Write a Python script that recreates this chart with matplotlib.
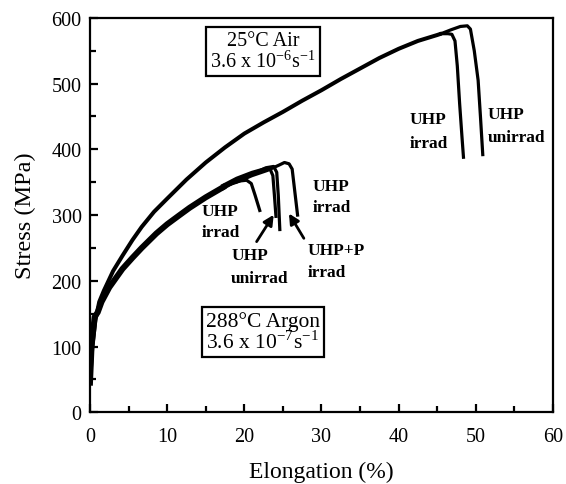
import matplotlib.pyplot as plt
from matplotlib.ticker import MultipleLocator

plt.rcParams['font.family'] = ['Liberation Serif', 'DejaVu Serif']
plt.rcParams['mathtext.fontset'] = 'stix'

# 25 C air, common rising part
air_x = [0, 0.3, 0.7, 1.2, 1.8, 3.0, 4.2, 5.5, 6.7, 8.3, 10, 12.5, 15, 17.5, 20,
         22.5, 25, 27.5, 30, 32.5, 35, 37.5, 40, 42.5, 45, 45.5]
air_y = [45, 100, 140, 168, 185, 215, 238, 262, 282, 305, 325, 354, 380, 403, 424,
         441, 457, 474, 490, 507, 523, 539, 553, 565, 574, 576]
air_unirr_x = [45.5, 46.8, 48.0, 48.9, 49.3, 49.8, 50.3, 50.6, 50.9]
air_unirr_y = [576, 582, 587, 588, 583, 550, 505, 450, 392]
air_irr_x = [45.5, 46.4, 46.9, 47.3, 47.6, 47.9, 48.2, 48.4]
air_irr_y = [576, 576, 575, 565, 527, 470, 420, 388]

# 288 C argon
arg_x = [0, 0.2, 0.6, 1.0, 1.5, 2.5, 4.2, 5.5, 6.7, 8.6, 10, 11.5, 12.9, 15, 17.2]
arg_y = [45, 100, 145, 152, 168, 190, 218, 235, 250, 272, 286, 299, 311, 327, 342]
arg_irr1_x = [17.2, 18.5, 19.5, 20.3, 20.9, 21.4, 22.0]
arg_irr1_y = [342, 349, 352, 353, 348, 330, 307]
arg_unirr_x = [17.2, 19, 21, 22.5, 23.3, 23.7, 23.9, 24.1]
arg_unirr_y = [345, 356, 365, 370, 371, 360, 330, 298]
arg_p_x = [17.2, 19, 21, 22.8, 23.8, 24.2, 24.4, 24.6]
arg_p_y = [340, 352, 362, 372, 374, 365, 330, 278]
arg_irr2_x = [17.2, 19, 21, 23, 24.5, 25.2, 25.8, 26.2, 26.6, 26.9]
arg_irr2_y = [343, 350, 360, 368, 376, 380, 378, 370, 330, 300]

fig = plt.figure(figsize=(5.66, 4.85), dpi=100)
ax = fig.add_axes([0.159, 0.148, 0.818, 0.813])

lw = 2.3
ax.plot(air_x, air_y, color='black', lw=lw + 0.6, solid_capstyle='round')
ax.plot(air_unirr_x, air_unirr_y, color='black', lw=lw)
ax.plot(air_irr_x, air_irr_y, color='black', lw=lw)
ax.plot(arg_x, arg_y, color='black', lw=lw + 2.0)
ax.plot(arg_irr1_x, arg_irr1_y, color='black', lw=lw)
ax.plot(arg_unirr_x, arg_unirr_y, color='black', lw=lw)
ax.plot(arg_p_x, arg_p_y, color='black', lw=lw)
ax.plot(arg_irr2_x, arg_irr2_y, color='black', lw=lw)

ax.set_xlim(0, 60)
ax.set_ylim(0, 600)
ax.xaxis.set_major_locator(MultipleLocator(10))
ax.xaxis.set_minor_locator(MultipleLocator(5))
ax.yaxis.set_major_locator(MultipleLocator(100))
ax.yaxis.set_minor_locator(MultipleLocator(50))
ax.tick_params(which='both', direction='in', width=1.6, labelsize=14.5, pad=6)
ax.tick_params(which='major', length=6)
ax.tick_params(which='minor', length=4)
ax.tick_params(axis='x', pad=11)
for s in ax.spines.values():
    s.set_linewidth(1.6)

ax.set_xlabel('Elongation (%)', fontsize=17, labelpad=10)
ax.set_ylabel('Stress (MPa)', fontsize=17.5, labelpad=11)

box = dict(boxstyle='square,pad=0.2', fc='white', ec='black', lw=1.6)
ax.text(22.4, 549, '25°C Air\n3.6 x 10$^{\\mathregular{-6}}$s$^{\\mathregular{-1}}$',
        fontsize=14.5, ha='center', va='center', bbox=box, linespacing=1.0)
ax.text(22.4, 122, '288°C Argon\n3.6 x 10$^{\\mathregular{-7}}$s$^{\\mathregular{-1}}$',
        fontsize=15.5, ha='center', va='center', bbox=box, linespacing=1.0)

lab = dict(fontsize=12.5, fontweight='bold', ha='left', va='center')
ax.text(41.4, 446, 'UHP', **lab)
ax.text(41.4, 410, 'irrad', **lab)
ax.text(51.5, 454, 'UHP', **lab)
ax.text(51.5, 419, 'unirrad', **lab)
ax.text(14.5, 306, 'UHP', **lab)
ax.text(14.5, 274, 'irrad', **lab)
ax.text(18.3, 239, 'UHP', **lab)
ax.text(18.3, 204, 'unirrad', **lab)
ax.text(28.2, 247, 'UHP+P', **lab)
ax.text(28.2, 213, 'irrad', **lab)
ax.text(28.8, 344, 'UHP', **lab)
ax.text(28.8, 313, 'irrad', **lab)

arr = dict(arrowstyle='-|>,head_length=0.6,head_width=0.3', color='black', lw=2)
ax.annotate('', xy=(24.0, 304), xytext=(21.4, 256), arrowprops=arr)
ax.annotate('', xy=(25.6, 306), xytext=(27.9, 261), arrowprops=arr)

fig.savefig('out.png', dpi=100)
